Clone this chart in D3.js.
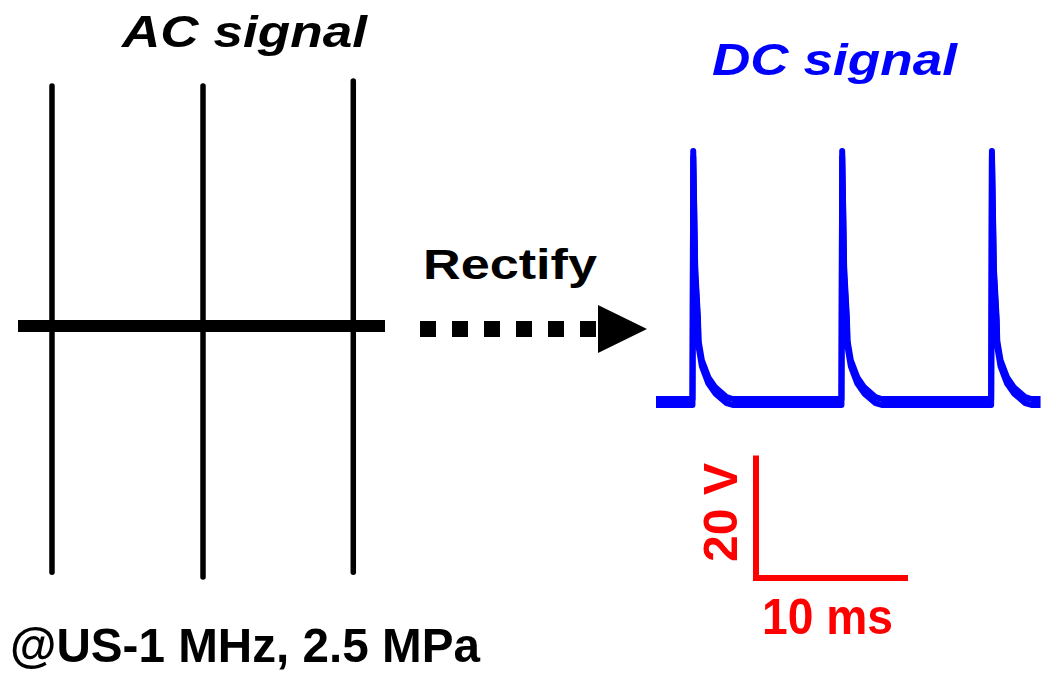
<!DOCTYPE html>
<html>
<head>
<meta charset="utf-8">
<script src="https://d3js.org/d3.v7.min.js"></script>
<style>
  body { margin: 0; background: #fff; }
  text { font-family: "Liberation Sans", Arial, sans-serif; font-weight: bold; }
</style>
</head>
<body>
<svg id="chart" width="1044" height="675"></svg>
<script>
// AC trace: burst times (ms) and their extreme voltages (V)
var acSpikeTimes = [2.25, 12.25, 22.2];
var acSpikeMax = [38.7, 38.7, 39.5];
var acSpikeMin = [-39.7, -40.5, -39.7];
var acRange = [0, 24.3];

// DC trace: peak times (ms), peak voltages and the decay read after each peak
var dcPeakTimes = [2.45, 12.25, 22.1];
var dcPeakValues = [40.5, 40.5, 40.5];
var decayOffsets = [0, 0.13, 0.31, 0.35, 0.57, 1.0, 1.45, 2.2];
var decayValues = [40.5, 21.3, 13.2, 9.5, 6.3, 3.5, 1.9, 0.3];
var dcRange = [0, 25.3];

// scale bar
var barVolts = 20, barMs = 10;

var svg = d3.select("#chart");

// scales (same px per ms / per V for both traces)
var xAC = d3.scaleLinear().domain(acRange).range([18, 385]);
var yAC = d3.scaleLinear().domain([-40, 40]).range([574, 78]);
var xDC = d3.scaleLinear().domain([0, 25.5]).range([656, 1043.6]);
var yDC = d3.scaleLinear().domain([0, 40]).range([399, 154]);

// ---- AC signal ----
var gAC = svg.append("g");
gAC.append("line")
    .attr("x1", xAC(acRange[0])).attr("x2", xAC(acRange[1]))
    .attr("y1", yAC(0)).attr("y2", yAC(0))
    .attr("stroke", "#000").attr("stroke-width", 12);

gAC.selectAll(".spike")
    .data(acSpikeTimes)
    .enter().append("line")
    .attr("class", "spike")
    .attr("x1", function(d) { return xAC(d); })
    .attr("x2", function(d) { return xAC(d); })
    .attr("y1", function(d, i) { return yAC(acSpikeMax[i]); })
    .attr("y2", function(d, i) { return yAC(acSpikeMin[i]); })
    .attr("stroke", "#000").attr("stroke-width", 5.5)
    .attr("stroke-linecap", "round");

// ---- DC signal ----
var dcPoints = [[dcRange[0], 0]];
dcPeakTimes.forEach(function(t, i) {
    dcPoints.push([t - 0.05, 0]);
    decayOffsets.forEach(function(o, j) {
        dcPoints.push([t + o, decayValues[j] * dcPeakValues[i] / decayValues[0]]);
    });
    dcPoints.push([t + 2.6, 0]);
});
dcPoints.push([dcRange[1], 0]);

var line = d3.line()
    .x(function(d) { return xDC(d[0]); })
    .y(function(d) { return yDC(d[1]); });

// trace drawn twice, offset a little, for the noise band of the scope trace
[6, 0].forEach(function(dy) {
    svg.append("path")
        .datum(dcPoints)
        .attr("d", line)
        .attr("transform", "translate(0," + dy + ")")
        .attr("fill", "none")
        .attr("stroke", "#0000ff")
        .attr("stroke-width", 6)
        .attr("stroke-linejoin", "round");
});

// ---- arrow ----
svg.append("line")
    .attr("x1", 420).attr("x2", 600)
    .attr("y1", 329).attr("y2", 329)
    .attr("stroke", "#000").attr("stroke-width", 16)
    .attr("stroke-dasharray", "16,16");
svg.append("path")
    .attr("d", "M598,305 L647,329 L598,353 Z")
    .attr("fill", "#000");

// ---- scale bar ----
var bx = 756, by = 578;
var barW = xDC(barMs) - xDC(0);
var barH = yDC(0) - yDC(barVolts);
svg.append("path")
    .attr("d", "M" + bx + "," + (by - barH) + " L" + bx + "," + by + " L" + (bx + barW) + "," + by)
    .attr("fill", "none")
    .attr("stroke", "#ff0000").attr("stroke-width", 6)
    .attr("stroke-linejoin", "miter");

// ---- labels (stretched horizontally to the width they have in the figure) ----
function label(txt, x, y, size, len, color, italic, rot) {
    var t = svg.append("text")
        .attr("font-size", size)
        .attr("font-style", italic ? "italic" : "normal")
        .attr("fill", color)
        .text(txt);
    var w = t.node().getComputedTextLength();
    t.attr("transform", "translate(" + x + "," + y + ")" + (rot ? " rotate(" + rot + ")" : "") +
        " scale(" + (len / w) + ",1)");
    return t;
}
label("AC signal", 122, 47, 44, 245, "#000", true);
label("DC signal", 712, 75, 45, 245, "#0000ff", true);
label("Rectify", 423, 279, 42, 174, "#000", false);
label("@US-1 MHz, 2.5 MPa", 10, 662, 49, 470, "#000", false);
label("10 ms", 762, 634, 50, 131, "#ff0000", false);
label("20 V", 737, 562, 48, 99, "#ff0000", false, -90);
</script>
</body>
</html>
